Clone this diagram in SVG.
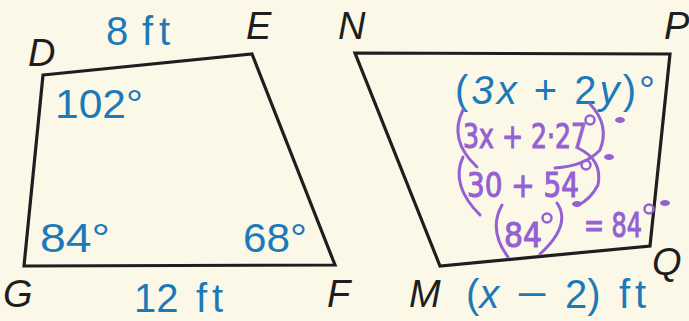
<svg xmlns="http://www.w3.org/2000/svg" width="689" height="321" viewBox="0 0 689 321">
<style>
.bg{fill:#fcf8e8}
.edge{fill:none;stroke:#1e1e1e;stroke-width:3.2;stroke-linejoin:miter}
.lbl{font-family:"Liberation Sans",Arial,sans-serif;font-size:40px;fill:#1c7ab9}
.v{font-family:"Liberation Sans",Arial,sans-serif;font-style:italic;font-size:38px;fill:#1e1e1e}
.hw{font-family:"DejaVu Sans Condensed","DejaVu Sans",sans-serif;font-size:34px;fill:#9461d2;stroke:#9461d2;stroke-width:1}
.arc{fill:none;stroke:#9461d2;stroke-width:3;stroke-linecap:round}
.deg{fill:none;stroke:#9461d2;stroke-width:2.5}
.dot{fill:#9461d2}
</style>
<rect class="bg" x="0" y="0" width="689" height="321"/>
<g id="DEFG">
<polygon class="edge" points="43,75 252,54 335,265 24,266"/>
<text class="v" x="28" y="66">D</text>
<text class="v" x="246" y="39">E</text>
<text class="v" x="327" y="307">F</text>
<text class="v" x="3" y="307">G</text>
<text class="lbl" x="106" y="45">8<tspan x="142">f</tspan><tspan x="159">t</tspan></text>
<text class="lbl" x="55" y="118" textLength="88" lengthAdjust="spacingAndGlyphs">102°</text>
<text class="lbl" x="40" y="252" textLength="70" lengthAdjust="spacingAndGlyphs">84°</text>
<text class="lbl" x="243" y="252" textLength="64" lengthAdjust="spacingAndGlyphs">68°</text>
<text class="lbl" x="134" y="312">12<tspan x="196">f</tspan><tspan x="212">t</tspan></text>
</g>
<g id="MNPQ">
<polygon class="edge" points="355,53 670,54 650,246 440,266"/>
<text class="v" x="338" y="39">N</text>
<text class="v" x="664" y="39">P</text>
<text class="v" x="652" y="275">Q</text>
<text class="v" x="409" y="307">M</text>
<text class="lbl" x="455" y="104" textLength="200" lengthAdjust="spacing">(<tspan font-style="italic">3x</tspan> + 2<tspan font-style="italic">y</tspan>)°</text>
<text class="lbl" x="466" y="308">(<tspan font-style="italic">x</tspan><tspan x="516" textLength="32" lengthAdjust="spacingAndGlyphs">−</tspan><tspan x="565">2)</tspan><tspan x="619">f</tspan><tspan x="635">t</tspan></text>
</g>
<g id="work">
<path class="arc" d="M463,110 Q448,140 477,167"/>
<text class="hw" x="463" y="148" textLength="124" lengthAdjust="spacingAndGlyphs">3x + 2·27</text>
<circle class="deg" cx="590" cy="120" r="4.5"/>
<path class="arc" d="M590,104 Q610,125 600,150 Q585,166 555,168"/>
<ellipse class="dot" cx="620" cy="120" rx="5" ry="3"/>
<path class="arc" d="M463,157 Q450,185 480,215"/>
<text class="hw" x="467" y="197" textLength="112" lengthAdjust="spacingAndGlyphs">30 + 54</text>
<circle class="deg" cx="586" cy="165" r="4.5"/>
<path class="arc" d="M578,148 Q603,160 598,185 Q590,200 578,205"/>
<ellipse class="dot" cx="609" cy="157" rx="5" ry="3"/>
<ellipse class="dot" cx="577" cy="204" rx="5" ry="3"/>
<path class="arc" d="M502,205 Q488,230 508,257"/>
<text class="hw" x="504" y="247" font-size="36" textLength="38" lengthAdjust="spacingAndGlyphs">84</text>
<circle class="deg" cx="547" cy="218" r="4.5"/>
<path class="arc" d="M557,203 Q572,225 540,254"/>
<text class="hw" x="584" y="237" textLength="58" lengthAdjust="spacingAndGlyphs">= 84</text>
<circle class="deg" cx="649" cy="209" r="4.5"/>
<ellipse class="dot" cx="665" cy="203" rx="5" ry="3"/>
</g>
</svg>
